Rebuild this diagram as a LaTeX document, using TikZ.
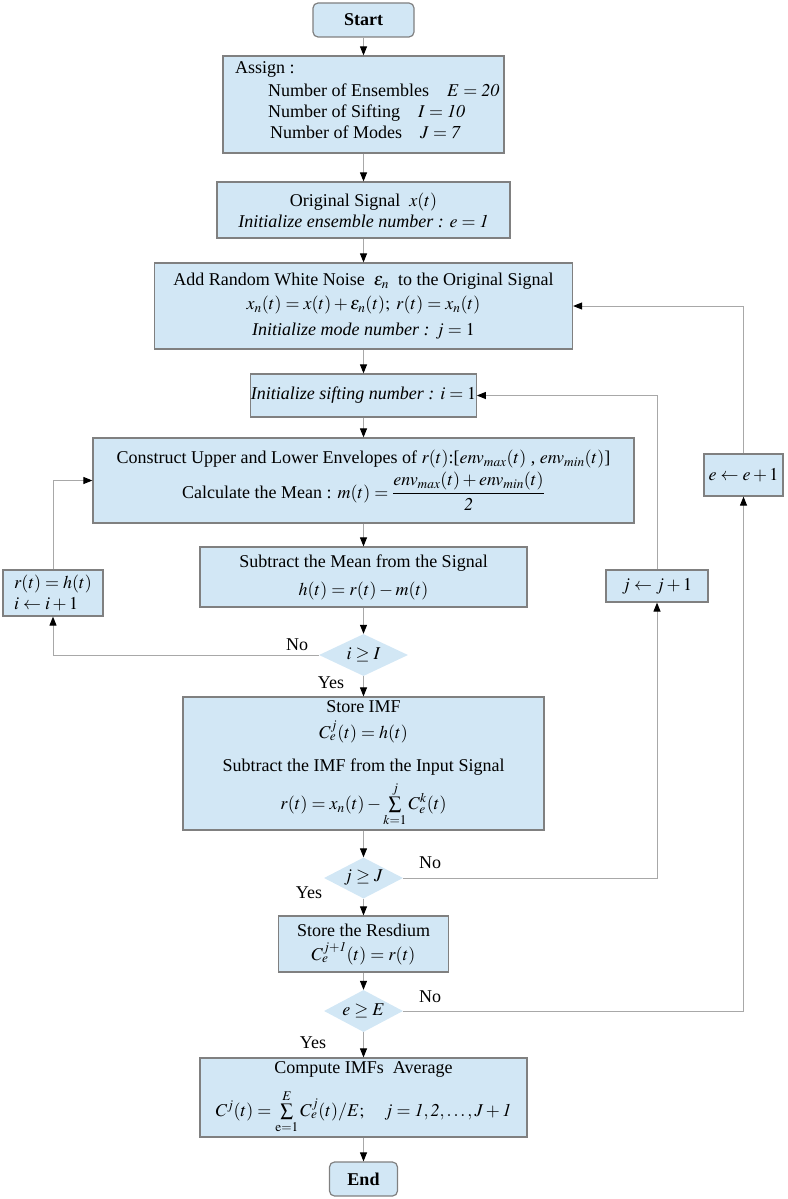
\documentclass[tikz,border=0pt]{standalone}
\usepackage{mathptmx}
\usepackage{fontspec}
\setmainfont{Liberation Serif}
\usetikzlibrary{arrows.meta,shapes.geometric}
\definecolor{boxfill}{HTML}{D2E7F5}
\definecolor{boxline}{HTML}{808080}
\definecolor{conn}{HTML}{A8A8A8}
\newcommand\fs{\fontsize{18}{21}\selectfont}
\tikzset{
  box/.style={draw=boxline, line width=1.2pt, fill=boxfill, inner sep=0pt, align=center, font=\fs},
  term/.style={box, rounded corners=5pt, font=\fs\bfseries},
  dec/.style={diamond, fill=boxfill, inner sep=0pt, aspect=2, font=\fs},
  flow/.style={draw=conn, line width=1pt, -{Triangle[length=9pt,width=7pt,color=black]}},
  lbl/.style={font=\fs, inner sep=0pt},
  txt/.style={font=\fs, inner sep=0pt, anchor=base west}
}
\begin{document}
\begin{tikzpicture}[x=1pt,y=-1pt]
\useasboundingbox (0,0) rectangle (787,1199);
% main column
\node[term, minimum width=101pt, minimum height=34pt] (start) at (363.5,20) {Start};
\node[box, minimum width=281pt, minimum height=97pt] (assign) at (363.5,104.5) {};
\node[txt] (a1) at (235,74) {Assign :};
\node[txt] (a2) at (268,96) {Number of Ensembles\quad $E=\mathit{20}$};
\node[txt] (a3) at (268,117) {Number of Sifting\quad $I=\mathit{10}$};
\node[txt] (a4) at (270,138) {Number of Modes\quad $J=\mathit{7}$};
\node[box, minimum width=293pt, minimum height=56pt] (orig) at (363.5,210)
  {Original Signal\ \ $x(t)$\\ \textit{Initialize ensemble number :} $e=\mathit{1}$};
\node[box, minimum width=418pt, minimum height=86pt] (noise) at (363.5,306)
  {Add Random White Noise\ \ $\epsilon_n$\ \ to the Original Signal\\[3pt]
   $x_n(t)=x(t)+\epsilon_n(t);\; r(t)=x_n(t)$\\[5pt]
   \textit{Initialize mode number :} $j=1$};
\node[box, minimum width=225pt, minimum height=43pt] (sift) at (363.5,395.5)
  {\textit{Initialize sifting number :} $i=1$};
\node[box, minimum width=541pt, minimum height=85pt] (env) at (363.5,480.5)
  {Construct Upper and Lower Envelopes of $r(t)$:[$env_{max}(t)$\ ,\ $env_{min}(t)$]\\[3pt]
   Calculate the Mean : $m(t)=\displaystyle\frac{env_{max}(t)+env_{min}(t)}{\mathit{2}}$};
\node[box, minimum width=327pt, minimum height=60pt] (sub) at (363.5,577)
  {Subtract the Mean from the Signal\\[7pt] $h(t)=r(t)-m(t)$};
\node[dec, minimum width=89pt, minimum height=42pt] (d1) at (363.5,655) {$i\geq I$};
\node[box, minimum width=361pt, minimum height=133pt] (imf) at (363.5,763.5)
  {Store IMF\\[5pt] $C_e^j(t)=h(t)$\\[12pt]
   Subtract the IMF from the Input Signal\\[6pt]
   $r(t)=x_n(t)-\sum\limits_{k=1}^{j} C_e^k(t)$};
\node[dec, minimum width=79pt, minimum height=41pt] (d2) at (363.5,878) {$j\geq J$};
\node[box, minimum width=170pt, minimum height=56pt] (res) at (363.5,944)
  {Store the Resdium\\[3pt] $C_e^{j+\mathit{1}}(t)=r(t)$};
\node[dec, minimum width=79pt, minimum height=42pt] (d3) at (363.5,1011) {$e\geq E$};
\node[box, minimum width=327pt, minimum height=79pt] (avg) at (363.5,1097.5)
  {Compute IMFs\ \ Average\\[12pt]
   $C^j(t)=\sum\limits_{\mathrm{e}=1}^{E} C_e^j(t)/E;\quad j=\mathit{1,2,\ldots,J+1}$};
\node[term, minimum width=68pt, minimum height=34pt] (end) at (363.5,1179) {End};
% side boxes
\node[box, minimum width=100pt, minimum height=46pt, align=left] (lbox) at (53,593)
  {$r(t)=h(t)$\\ $i\leftarrow i+1$};
\node[box, minimum width=102pt, minimum height=32pt] (jinc) at (657,586) {$j\leftarrow j+1$};
\node[box, minimum width=79pt, minimum height=42pt] (einc) at (743.5,475) {$e\leftarrow e+1$};
% connectors
\draw[flow] (start) -- (assign);
\draw[flow] (assign) -- (orig);
\draw[flow] (orig) -- (noise);
\draw[flow] (noise) -- (sift);
\draw[flow] (sift) -- (env);
\draw[flow] (env) -- (sub);
\draw[flow] (sub) -- (d1);
\draw[flow] (d1) -- (imf);
\draw[flow] (d1.west) -| (lbox.south);
\draw[flow] (lbox.north) |- (env.west);
\draw[flow] (imf) -- (d2);
\draw[flow] (d2.east) -| (jinc.south);
\draw[flow] (jinc.north) |- (sift.east);
\draw[flow] (d2) -- (res);
\draw[flow] (res) -- (d3);
\draw[flow] (d3.east) -| (einc.south);
\draw[flow] (einc.north) |- (noise.east);
\draw[flow] (d3) -- (avg);
\draw[flow] (avg) -- (end);
% labels
\node[lbl] (no1) at (297,645) {No};
\node[lbl] (yes1) at (331,683) {Yes};
\node[lbl] (no2) at (430,863) {No};
\node[lbl] (yes2) at (309,893) {Yes};
\node[lbl] (no3) at (430,997) {No};
\node[lbl] (yes3) at (313,1043) {Yes};
\end{tikzpicture}
\end{document}
